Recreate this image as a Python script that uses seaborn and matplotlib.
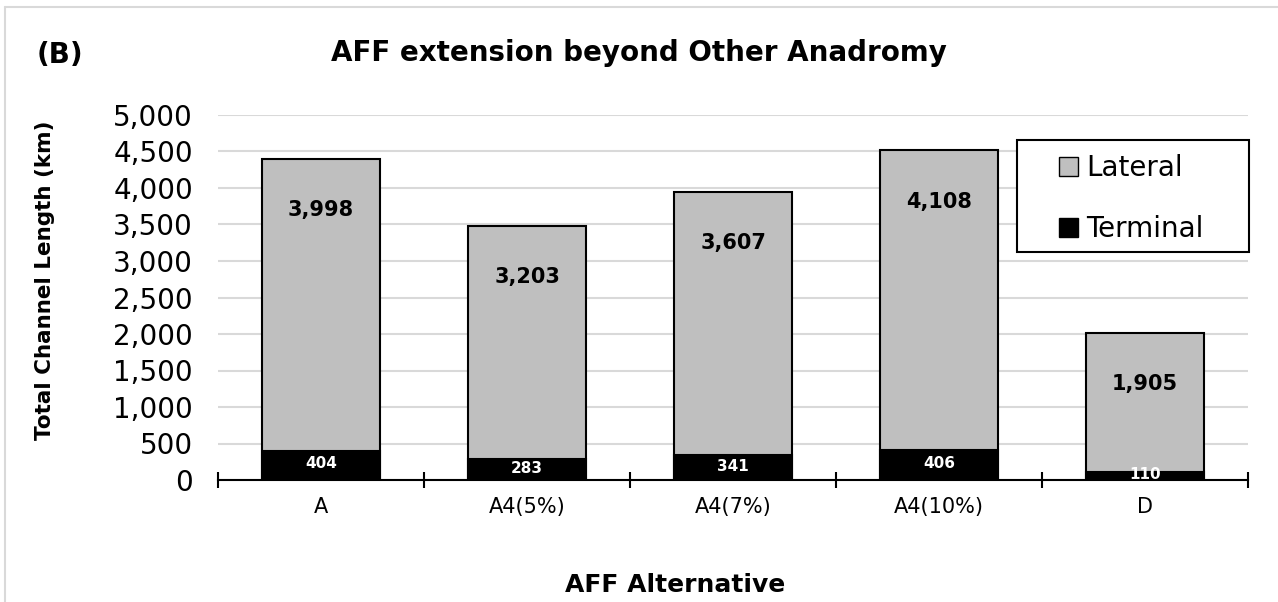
import matplotlib
matplotlib.use("Agg")
import matplotlib.pyplot as plt
import seaborn as sns
from matplotlib.patches import Patch, Rectangle
from matplotlib.lines import Line2D
from matplotlib.ticker import FuncFormatter, FixedLocator

# Data
alternatives = ['A', 'A4(5%)', 'A4(7%)', 'A4(10%)', 'D']
terminal = [404, 283, 341, 406, 110]
lateral = [3998, 3203, 3607, 4108, 1905]
series_names = ['Lateral', 'Terminal']

totals = [t + l for t, l in zip(terminal, lateral)]

sns.set_theme(style="white")
plt.rcParams['font.family'] = ['DejaVu Sans']
plt.rcParams['text.color'] = 'black'
plt.rcParams['xtick.color'] = 'black'
plt.rcParams['ytick.color'] = 'black'

fig = plt.figure(figsize=(12.78, 6.02), dpi=100)
ax = fig.add_axes([218 / 1278, 1 - 480 / 602, 1030 / 1278, 365 / 602])

gray = '#bfbfbf'
bar_w = 0.57

# stacked bars: full height in gray, terminal part in black over it
sns.barplot(x=alternatives, y=totals, color=gray, width=bar_w,
            edgecolor='black', linewidth=1.5, saturation=1, ax=ax, zorder=2)
sns.barplot(x=alternatives, y=terminal, color='black', width=bar_w,
            edgecolor='black', linewidth=1.5, saturation=1, ax=ax, zorder=3)

# value labels
for i, (tot, lat, term) in enumerate(zip(totals, lateral, terminal)):
    ax.text(i, tot - 700, f"{lat:,}", ha='center', va='center',
            fontsize=15, fontweight='bold', color='black', zorder=5)
    ax.text(i, term / 2 + 20, f"{term:,}", ha='center', va='center',
            fontsize=11, fontweight='bold', color='white', zorder=5)

# axes styling
ax.set_ylim(0, 5000)
ax.set_xlim(-0.5, len(alternatives) - 0.5)
ax.set_yticks(range(0, 5001, 500))
ax.yaxis.set_major_formatter(FuncFormatter(lambda v, p: f"{int(v):,}"))
ax.tick_params(axis='y', length=0, labelsize=20, pad=18)
ax.yaxis.grid(True, color='#d9d9d9', linewidth=1.5)
ax.set_axisbelow(True)

# category boundaries as major ticks, labels on minor ticks
ax.xaxis.set_major_locator(FixedLocator([i - 0.5 for i in range(len(alternatives) + 1)]))
ax.xaxis.set_major_formatter(FuncFormatter(lambda v, p: ''))
ax.xaxis.set_minor_locator(FixedLocator(range(len(alternatives))))
ax.set_xticklabels(alternatives, minor=True)
ax.tick_params(axis='x', which='major', direction='inout', length=11, width=1.5, color='black', bottom=True)
ax.tick_params(axis='x', which='minor', length=0, labelsize=15, pad=12)

for side in ['left', 'right', 'top']:
    ax.spines[side].set_visible(False)
ax.spines['bottom'].set_color('black')
ax.spines['bottom'].set_linewidth(1.5)
ax.spines['bottom'].set_zorder(6)

ax.set_xlabel('')
ax.set_ylabel('')

# legend (frameless, with a drawn box around it)
handles = [Patch(facecolor=gray, edgecolor='black', linewidth=1),
           Patch(facecolor='black', edgecolor='black', linewidth=1)]
fig.add_artist(Rectangle((1017 / 1278, 1 - 252 / 602), 232 / 1278, 112 / 602,
                         transform=fig.transFigure, facecolor='white',
                         edgecolor='black', linewidth=1.5, zorder=4))
leg = fig.legend(handles, series_names, loc='upper left',
                 bbox_to_anchor=(1059 / 1278, 1 - 154 / 602),
                 fontsize=20, frameon=False,
                 handlelength=0.7, handleheight=0.7, handletextpad=0.28,
                 borderpad=0, labelspacing=1.2, borderaxespad=0)
leg.set_zorder(5)

# titles and axis labels
fig.text(639 / 1278, 1 - 53 / 602, 'AFF extension beyond Other Anadromy',
         ha='center', va='center', fontsize=20, fontweight='bold')
fig.text(37 / 1278, 1 - 55 / 602, '(B)', ha='left', va='center',
         fontsize=20, fontweight='bold')
fig.text(675 / 1278, 1 - 585 / 602, 'AFF Alternative', ha='center', va='center',
         fontsize=18, fontweight='bold')
fig.text(45 / 1278, 1 - 280 / 602, 'Total Channel Length (km)', ha='center',
         va='center', rotation=90, fontsize=15.5, fontweight='bold')

# light chart border (top and left edges visible)
fig.add_artist(Line2D([5 / 1278, 1], [1 - 7 / 602, 1 - 7 / 602],
                      color='#d9d9d9', linewidth=1.5))
fig.add_artist(Line2D([5 / 1278, 5 / 1278], [0, 1 - 7 / 602],
                      color='#d9d9d9', linewidth=1.5))

fig.savefig('out.png', dpi=100)
